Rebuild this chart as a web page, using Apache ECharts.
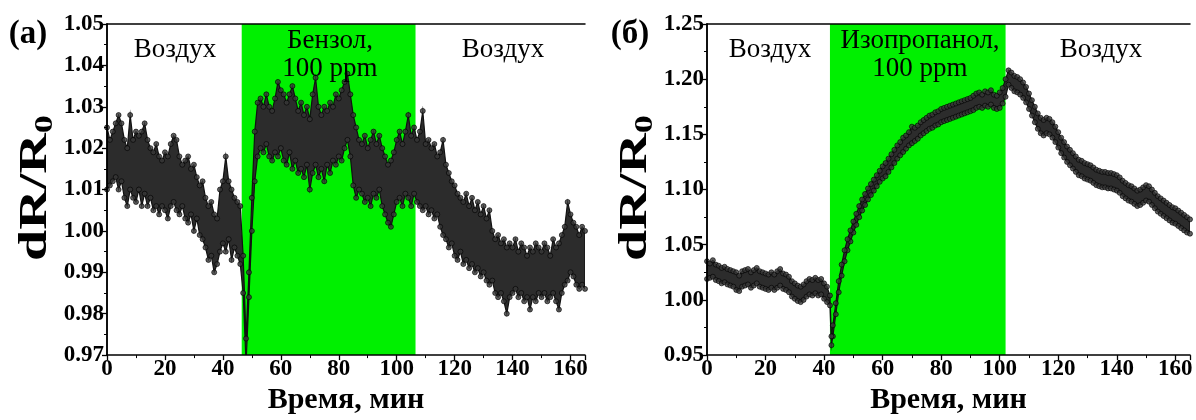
<!DOCTYPE html>
<html><head><meta charset="utf-8">
<script src="https://cdn.jsdelivr.net/npm/echarts@6/dist/echarts.min.js"></script>
<style>html,body{margin:0;padding:0;background:#fff}#c{width:1196px;height:420px}</style>
</head><body><div id="c"></div><script>
// ---------- Panel (а): Бензол ----------
const timeA=[0,1,2,3,4,5,6,7,8,9,10,11,12,13,14,15,16,17,18,19,20,21,22,23,24,25,26,27,28,29,30,31,32,33,34,35,36,37,38,39,40,41,42,43,44,45,46,47,48,49,50,51,52,53,54,55,56,57,58,59,60,61,62,63,64,65,66,67,68,69,70,71,72,73,74,75,76,77,78,79,80,81,82,83,84,85,86,87,88,89,90,91,92,93,94,95,96,97,98,99,100,101,102,103,104,105,106,107,108,109,110,111,112,113,114,115,116,117,118,119,120,121,122,123,124,125,126,127,128,129,130,131,132,133,134,135,136,137,138,139,140,141,142,143,144,145,146,147,148,149,150,151,152,153,154,155,156,157,158,159,160,161,162,163,164,165];
const lowA=[1.010,1.011,1.012,1.013,1.010,1.012,1.008,1.006,1.010,1.008,
1.007,1.010,1.006,1.009,1.006,1.008,1.005,1.006,1.004,1.006,
1.005,1.003,1.006,1.007,1.005,1.004,1.006,1.003,1.002,1.004,
1.000,1.003,0.999,0.998,0.996,0.993,0.994,0.990,0.992,0.995,
0.997,0.995,0.998,0.993,0.996,0.994,0.992,0.985,0.968,0.984,
1.000,1.012,1.018,1.020,1.019,1.021,1.018,1.017,1.019,1.018,
1.020,1.017,1.016,1.019,1.015,1.017,1.014,1.015,1.013,1.016,
1.010,1.014,1.016,1.013,1.015,1.012,1.016,1.014,1.017,1.016,
1.018,1.017,1.020,1.022,1.018,1.011,1.008,1.010,1.009,1.007,
1.008,1.006,1.009,1.008,1.010,1.006,1.004,1.002,1.001,1.004,
1.007,1.008,1.006,1.009,1.008,1.006,1.009,1.007,1.006,1.005,
1.006,1.004,1.005,1.003,1.004,1.001,0.999,0.998,0.996,0.997,
0.994,0.993,0.995,0.992,0.993,0.991,0.992,0.990,0.991,0.989,
0.990,0.988,0.987,0.988,0.985,0.984,0.985,0.983,0.980,0.984,
0.985,0.986,0.984,0.985,0.983,0.984,0.981,0.984,0.983,0.985,
0.984,0.985,0.983,0.984,0.985,0.983,0.981,0.985,0.987,0.988,
0.990,0.989,0.987,0.986,0.987,0.986];
const highA=[1.025,1.022,1.024,1.026,1.028,1.026,1.022,1.020,1.028,1.022,
1.024,1.023,1.024,1.026,1.022,1.020,1.019,1.021,1.018,1.017,
1.019,1.018,1.021,1.023,1.022,1.018,1.016,1.017,1.018,1.015,
1.016,1.013,1.011,1.012,1.008,1.006,1.007,1.004,1.003,1.010,
1.012,1.018,1.012,1.010,1.008,1.007,1.006,0.994,0.974,0.990,
1.008,1.024,1.031,1.032,1.030,1.033,1.030,1.029,1.032,1.036,
1.034,1.033,1.031,1.033,1.035,1.032,1.029,1.031,1.028,1.030,
1.027,1.033,1.037,1.030,1.028,1.030,1.029,1.031,1.030,1.033,
1.032,1.034,1.036,1.038,1.033,1.028,1.025,1.022,1.021,1.023,
1.020,1.022,1.024,1.021,1.023,1.020,1.018,1.016,1.017,1.019,
1.022,1.024,1.021,1.024,1.028,1.023,1.025,1.022,1.024,1.029,
1.021,1.022,1.020,1.021,1.018,1.019,1.022,1.016,1.014,1.012,
1.011,1.009,1.008,1.007,1.009,1.006,1.008,1.005,1.007,1.004,
1.006,1.003,1.005,1.000,0.998,0.999,0.997,0.998,0.996,0.997,
0.996,0.998,0.995,0.997,0.996,0.994,0.996,0.995,0.997,0.996,
0.995,0.997,0.996,0.994,0.998,0.996,0.997,0.999,1.001,1.007,
1.004,1.002,1.001,0.999,1.001,1.000];
const gasA=[46.5,106.5];
const yTicksA={min:0.97,max:1.05,step:0.01};

// ---------- Panel (б): Изопропанол ----------
const timeB=[0,1,2,3,4,5,6,7,8,9,10,11,12,13,14,15,16,17,18,19,20,21,22,23,24,25,26,27,28,29,30,31,32,33,34,35,36,37,38,39,40,41,42,42.5,43,44,45,46,47,48,49,50,51,52,53,54,55,56,57,58,59,60,61,62,63,64,65,66,67,68,69,70,71,72,73,74,75,76,77,78,79,80,81,82,83,84,85,86,87,88,89,90,91,92,93,94,95,96,97,98,99,100,101,102,103,104,105,106,107,108,109,110,111,112,113,114,115,116,117,118,119,120,121,122,123,124,125,126,127,128,129,130,131,132,133,134,135,136,137,138,139,140,141,142,143,144,145,146,147,148,149,150,151,152,153,154,155,156,157,158,159,160,161,162,163,164,165];
const lowB=[1.019,1.020,1.021,1.018,1.017,1.015,1.016,1.014,1.013,1.012,
1.009,1.008,1.012,1.013,1.014,1.011,1.013,1.015,1.012,1.011,
1.010,1.009,1.011,1.009,1.011,1.013,1.010,1.009,1.007,1.003,
1.001,0.999,0.998,1.000,1.003,1.005,1.004,1.006,1.004,1.005,
1.001,0.998,0.995,
0.959,
0.967,0.987,1.007,1.022,1.035,1.045,1.053,
1.061,1.068,1.075,1.081,1.086,1.091,1.095,1.099,1.103,1.107,
1.110,1.112,1.116,1.120,1.124,1.128,1.131,1.134,1.137,1.140,
1.142,1.144,1.146,1.149,1.151,1.153,1.155,1.156,1.158,1.159,
1.161,1.162,1.163,1.164,1.165,1.166,1.167,1.168,1.169,1.170,
1.171,1.172,1.174,1.175,1.174,1.176,1.175,1.177,1.174,1.173,
1.174,1.178,1.184,1.195,1.192,1.189,1.188,1.186,1.183,1.179,
1.173,1.167,1.161,1.155,1.151,1.149,1.151,1.150,1.147,1.143,
1.138,1.133,1.129,1.125,1.122,1.119,1.116,1.113,1.112,1.110,
1.109,1.108,1.106,1.104,1.103,1.102,1.102,1.101,1.101,1.100,
1.099,1.097,1.094,1.092,1.090,1.089,1.087,1.085,1.086,1.088,
1.090,1.089,1.086,1.083,1.080,1.078,1.076,1.074,1.072,1.070,
1.069,1.067,1.065,1.063,1.061,1.060];
const highB=[1.035,1.033,1.036,1.032,1.031,1.029,1.030,1.028,1.027,1.026,
1.025,1.022,1.026,1.027,1.028,1.025,1.027,1.029,1.026,1.025,
1.024,1.023,1.025,1.023,1.026,1.028,1.024,1.023,1.021,1.017,
1.015,1.013,1.012,1.014,1.017,1.019,1.018,1.020,1.018,1.019,
1.015,1.012,1.004,
0.967,
0.977,0.997,1.017,1.032,1.045,1.055,1.063,
1.071,1.078,1.085,1.091,1.096,1.101,1.105,1.109,1.113,1.117,
1.121,1.124,1.128,1.132,1.136,1.140,1.143,1.147,1.149,1.152,
1.157,1.156,1.158,1.161,1.163,1.165,1.167,1.168,1.170,1.171,
1.173,1.174,1.175,1.176,1.177,1.178,1.179,1.180,1.181,1.182,
1.183,1.185,1.187,1.188,1.186,1.189,1.188,1.190,1.186,1.185,
1.188,1.192,1.200,1.208,1.206,1.203,1.202,1.200,1.197,1.193,
1.187,1.181,1.175,1.169,1.165,1.163,1.165,1.164,1.161,1.157,
1.152,1.147,1.143,1.139,1.136,1.133,1.130,1.127,1.126,1.124,
1.123,1.122,1.120,1.118,1.117,1.116,1.116,1.115,1.115,1.114,
1.113,1.111,1.108,1.106,1.104,1.103,1.101,1.099,1.100,1.102,
1.104,1.103,1.100,1.097,1.094,1.092,1.090,1.088,1.086,1.084,
1.083,1.081,1.079,1.077,1.075,1.073];
const gasB=[42,102];
const yTicksB={min:0.95,max:1.25,step:0.05};

const xTicks={min:0,max:165,step:20};
const xTitle='Время, мин';
const panelLabels=['(а)','(б)'];
const regionLabelsA=['Воздух','Бензол,\n100 ppm','Воздух'];
const regionLabelsB=['Воздух','Изопропанол,\n100 ppm','Воздух'];

// ---------- rendering ----------
const F='"Liberation Serif","Times New Roman",serif';
const chart=echarts.init(document.getElementById('c'),null,{renderer:'canvas'});
const grids=[{left:107,top:24,width:478,height:337},{left:707,top:24,width:483,height:338}];
const lineSt={color:'#000',width:1.5};
const lblSt={fontFamily:F,fontWeight:'bold',fontSize:23,color:'#000'};
const xAxes=[],yAxes=[],series=[];
function addPanel(g,time,lo,hi,gas,yt){
  xAxes.push({gridIndex:g,type:'value',position:'bottom',min:xTicks.min,max:xTicks.max,interval:xTicks.step,z:10,
    axisLine:{lineStyle:lineSt},axisTick:{length:5,lineStyle:{color:'#000',width:1.3}},
    minorTick:{show:true,splitNumber:2,length:3,lineStyle:{color:'#000',width:1}},
    axisLabel:Object.assign({margin:2,showMaxLabel:false},lblSt),splitLine:{show:false},
    name:xTitle,nameLocation:'middle',nameGap:27,nameTextStyle:{fontFamily:F,fontWeight:'bold',fontSize:30,color:'#000'}});
  xAxes.push({gridIndex:g,type:'value',position:'top',min:xTicks.min,max:xTicks.max,z:10,
    axisLine:{lineStyle:lineSt},axisTick:{show:false},axisLabel:{show:false},splitLine:{show:false}});
  yAxes.push({gridIndex:g,type:'value',position:'left',min:yt.min,max:yt.max,interval:yt.step,z:10,
    axisLine:{lineStyle:lineSt},axisTick:{length:5,lineStyle:{color:'#000',width:1.3}},
    minorTick:{show:true,splitNumber:2,length:3,lineStyle:{color:'#000',width:1}},
    axisLabel:Object.assign({margin:3,formatter:v=>v.toFixed(2)},lblSt),splitLine:{show:false}});
  yAxes.push({gridIndex:g,type:'value',position:'right',min:yt.min,max:yt.max,z:10,
    axisLine:{lineStyle:lineSt},axisTick:{show:false},axisLabel:{show:false},splitLine:{show:false}});
  const xi=g*2, yi=g*2;
  // green exposure region
  series.push({type:'custom',xAxisIndex:xi,yAxisIndex:yi,z:1,silent:true,clip:true,
    data:[[gas[0],gas[1]]],
    renderItem:(p,api)=>{
      const a=api.coord([api.value(0),yt.max]), b=api.coord([api.value(1),yt.min]);
      return {type:'rect',shape:{x:a[0],y:a[1],width:b[0]-a[0],height:b[1]-a[1]},style:{fill:'#00f000'}};
    }});
  // dense data cloud (envelope)
  series.push({type:'custom',xAxisIndex:xi,yAxisIndex:yi,z:2,silent:true,clip:true,
    data:[[time[0],lo[0]]],
    renderItem:(p,api)=>{
      const pts=[];
      for(let i=0;i<time.length;i++)pts.push(api.coord([time[i],hi[i]]));
      for(let i=time.length-1;i>=0;i--)pts.push(api.coord([time[i],lo[i]]));
      return {type:'polygon',shape:{points:pts},style:{fill:'#2c2c2c',stroke:'#111',lineWidth:1.2}};
    }});
  const dot={color:'#3a3a3a',borderColor:'#000',borderWidth:0.8};
  series.push({type:'scatter',xAxisIndex:xi,yAxisIndex:yi,symbolSize:5,z:3,itemStyle:dot,data:time.map((t,i)=>[t,lo[i]])});
  series.push({type:'scatter',xAxisIndex:xi,yAxisIndex:yi,symbolSize:5,z:3,itemStyle:dot,data:time.map((t,i)=>[t,hi[i]])});
}
addPanel(0,timeA,lowA,highA,gasA,yTicksA);
addPanel(1,timeB,lowB,highB,gasB,yTicksB);

function txt(x,y,s,size,bold){
  return {type:'text',x:x,y:y,z:20,style:{text:s,font:(bold?'bold ':'')+size+'px '+F,fill:'#000',align:'center',verticalAlign:'middle',lineHeight:size*1.05}};
}
function yTitle(x,y){
  return {type:'text',x:x,y:y,rotation:Math.PI/2,scaleX:1.4,z:20,
    style:{text:'dR/R{s|0}',font:'bold 40px '+F,fill:'#000',align:'center',verticalAlign:'middle',
      rich:{s:{font:'bold 26px '+F,padding:[18,0,0,0]}}}};
}
const graphic=[
  txt(28,34,panelLabels[0],33,true),
  txt(630,34,panelLabels[1],33,true),
  txt(175,50,regionLabelsA[0],27,false),
  txt(330,55,regionLabelsA[1],27,false),
  txt(503,50,regionLabelsA[2],27,false),
  txt(770,50,regionLabelsB[0],27,false),
  txt(920,55,regionLabelsB[1],27,false),
  txt(1101,50,regionLabelsB[2],27,false),
  yTitle(36,188),
  yTitle(636,188)
];
chart.setOption({animation:false,backgroundColor:'#fff',grid:grids,xAxis:xAxes,yAxis:yAxes,series:series,graphic:graphic});
</script></body></html>
